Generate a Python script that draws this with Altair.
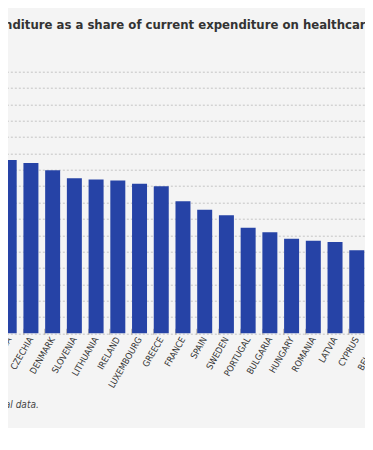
import altair as alt
import pandas as pd

countries = ["CROATIA", "CZECHIA", "DENMARK", "SLOVENIA", "LITHUANIA", "IRELAND",
             "LUXEMBOURG", "GREECE", "FRANCE", "SPAIN", "SWEDEN", "PORTUGAL",
             "BULGARIA", "HUNGARY", "ROMANIA", "LATVIA", "CYPRUS", "BELGIUM"]
values = [53.0, 52.1, 49.9, 47.4, 47.0, 46.7, 45.7, 45.0, 40.4, 37.8, 36.1, 32.3,
          30.9, 28.9, 28.3, 27.9, 25.4, 24.9]
y_ticks = list(range(0, 85, 5))
title_text = "expenditure as a share of current expenditure on healthcare,"
footnote = "national data."

df = pd.DataFrame({"country": countries, "value": values})

FONT = "DejaVu Sans Condensed, DejaVu Sans"
BG = "#f4f4f4"

bars = alt.Chart(df).mark_bar(color="#2643a6").encode(
    x=alt.X("country:N", sort=countries,
            scale=alt.Scale(paddingInner=0.31, paddingOuter=0.155),
            axis=alt.Axis(title=None, labelAngle=-60, labelFont=FONT, labelFontSize=9,
                          labelColor="#333333", bandPosition=0, tickSize=6,
                          tickColor="#b0a8a0", offset=-5, domain=False,
                          labelPadding=3, labelBound=False, labelOverlap=False)),
    y=alt.Y("value:Q", scale=alt.Scale(domain=[0, 80], nice=False),
            axis=alt.Axis(title=None, values=y_ticks, labels=False, ticks=False,
                          domain=False, grid=True, gridColor="#c4c4c4",
                          gridDash=[2, 2], gridWidth=1)),
)

note = alt.Chart(pd.DataFrame({"t": [footnote]})).mark_text(
    align="left", baseline="alphabetic", font=FONT, fontSize=10,
    fontStyle="italic", color="#444444",
).encode(text="t:N", x=alt.value(-22), y=alt.value(336))

chart = alt.layer(bars, note).properties(
    width=391,
    height=261.6,
    title=alt.TitleParams(title_text, anchor="start", frame="group", dx=-26,
                          font=FONT, fontSize=13, fontWeight="bold",
                          color="#333333", offset=40),
    background=BG,
    padding={"left": -9.66, "top": 63.7, "right": -24.34, "bottom": 94.7},
    autosize=alt.AutoSizeParams(type="none"),
).configure_view(stroke=None)

chart.save("out.html", embed_options={"renderer": "svg", "actions": False})
